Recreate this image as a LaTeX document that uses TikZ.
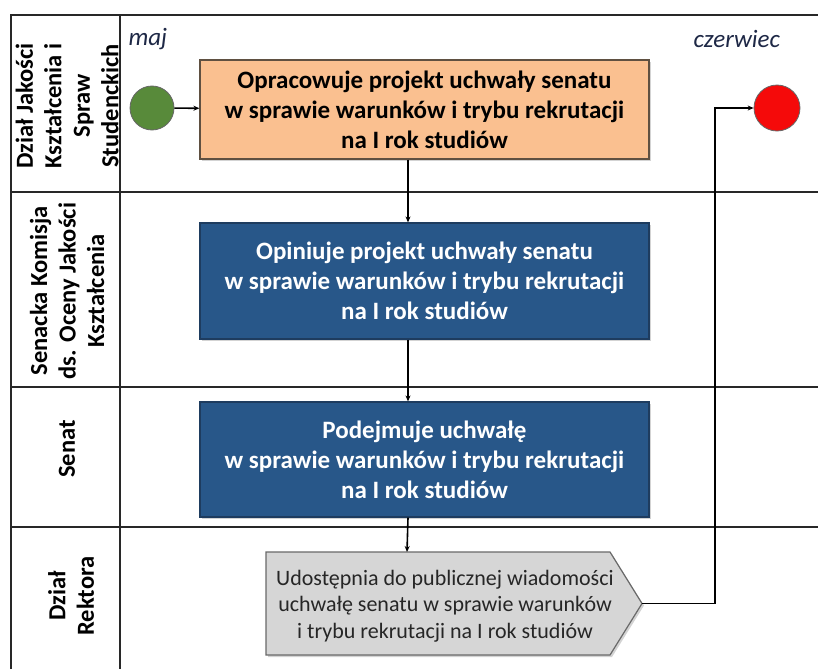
\documentclass[tikz,border=0pt]{standalone}
\usepackage{fontspec}
\setmainfont{Carlito}
\usetikzlibrary{shadows,arrows.meta}
\definecolor{peach}{RGB}{250,192,144}
\definecolor{peachedge}{RGB}{95,80,65}
\definecolor{boxblue}{RGB}{40,87,137}
\definecolor{blueedge}{RGB}{30,60,95}
\definecolor{chevgray}{RGB}{214,214,214}
\definecolor{chevedge}{RGB}{105,105,105}
\definecolor{startgreen}{RGB}{88,138,58}
\definecolor{endred}{RGB}{245,10,10}
\definecolor{monthcol}{RGB}{30,40,70}
\definecolor{framecol}{RGB}{40,40,40}
\begin{document}
\begin{tikzpicture}[x=1pt,y=-1pt,
  frameline/.style={draw=framecol,line width=1.4pt},
  lanelabel/.style={rotate=90,align=center,font=\bfseries\fontsize{24.5}{28.5}\selectfont},
  month/.style={font=\itshape\fontsize{25}{28}\selectfont,text=monthcol},
  taskbox/.style={rectangle,inner sep=0pt,align=center,line width=1.2pt,
    minimum width=449pt,font=\bfseries\fontsize{25}{30}\selectfont,
    drop shadow={shadow xshift=2pt,shadow yshift=-2pt,opacity=0.35}},
  orangebox/.style={taskbox,fill=peach,draw=peachedge,text=black},
  bluebox/.style={taskbox,fill=boxblue,draw=blueedge,text=white},
  chevtext/.style={align=center,inner sep=0pt,font=\fontsize{22}{26.5}\selectfont,text=black!85},
  chevshape/.style={fill=chevgray,draw=chevedge,line width=1.2pt,
    drop shadow={shadow xshift=2pt,shadow yshift=-2pt,opacity=0.35}},
  event/.style={circle,inner sep=0pt,draw=black!60,line width=0.8pt},
  arr/.style={draw=black,line width=1.6pt,-{Stealth[length=6pt,width=5pt]}}
]
\useasboundingbox (0,0) rectangle (818,669);
% frame
\draw[frameline] (11,669) -- (11,15) -- (818,15);
\draw[frameline] (120,15) -- (120,669);
\draw[frameline] (11,192) -- (818,192);
\draw[frameline] (11,387) -- (818,387);
\draw[frameline] (11,527) -- (818,527);
% lane labels
\node[lanelabel] (l1) at (67,106) {Dział Jakości\\Kształcenia i\\Spraw\\Studenckich};
\node[lanelabel] (l2) at (67,291) {Senacka Komisja\\ds. Oceny Jakości\\Kształcenia};
\node[lanelabel] (l3) at (67,449) {Senat};
\node[lanelabel] (l4) at (71,596) {Dział\\Rektora};
% months
\node[month,anchor=west] (m1) at (125,39) {maj};
\node[month,anchor=west] (m2) at (690,39) {czerwiec};
% events
\node[event,fill=startgreen,minimum size=44pt] (st) at (152,108) {};
\node[event,fill=endred,minimum size=46pt] (en) at (777,108) {};
% tasks
\node[orangebox,minimum height=99pt] (t1) at (424.5,109.5)
  {Opracowuje projekt uchwały senatu\\w sprawie warunków i trybu rekrutacji\\na I rok studiów};
\node[bluebox,minimum height=116pt] (t2) at (424.5,281)
  {Opiniuje projekt uchwały senatu\\w sprawie warunków i trybu rekrutacji\\na I rok studiów};
\node[bluebox,minimum height=115pt] (t3) at (424.5,459.5)
  {Podejmuje uchwałę\\w sprawie warunków i trybu rekrutacji\\na I rok studiów};
% chevron
\draw[chevshape] (266,552) -- (610,552) -- (642,603.5) -- (610,655) -- (266,655) -- cycle;
\coordinate (tip) at (642,603.5);
\coordinate (chevtop) at (407,552);
\node[chevtext] (t4) at (445,606)
  {Udostępnia do publicznej wiadomości\\uchwałę senatu w sprawie warunków\\i trybu rekrutacji na I rok studiów};
\coordinate (bend) at (715,300);
% connectors
\draw[arr] (st) -- (t1);
\draw[arr] ([xshift=-16.5pt]t1.south) -- ([xshift=-16.5pt]t2.north);
\draw[arr] ([xshift=-16.5pt]t2.south) -- ([xshift=-16.5pt]t3.north);
\draw[arr] ([xshift=-16.5pt]t3.south) -- (chevtop);
\draw[arr] (tip) -| (bend) |- (en);
\end{tikzpicture}
\end{document}
